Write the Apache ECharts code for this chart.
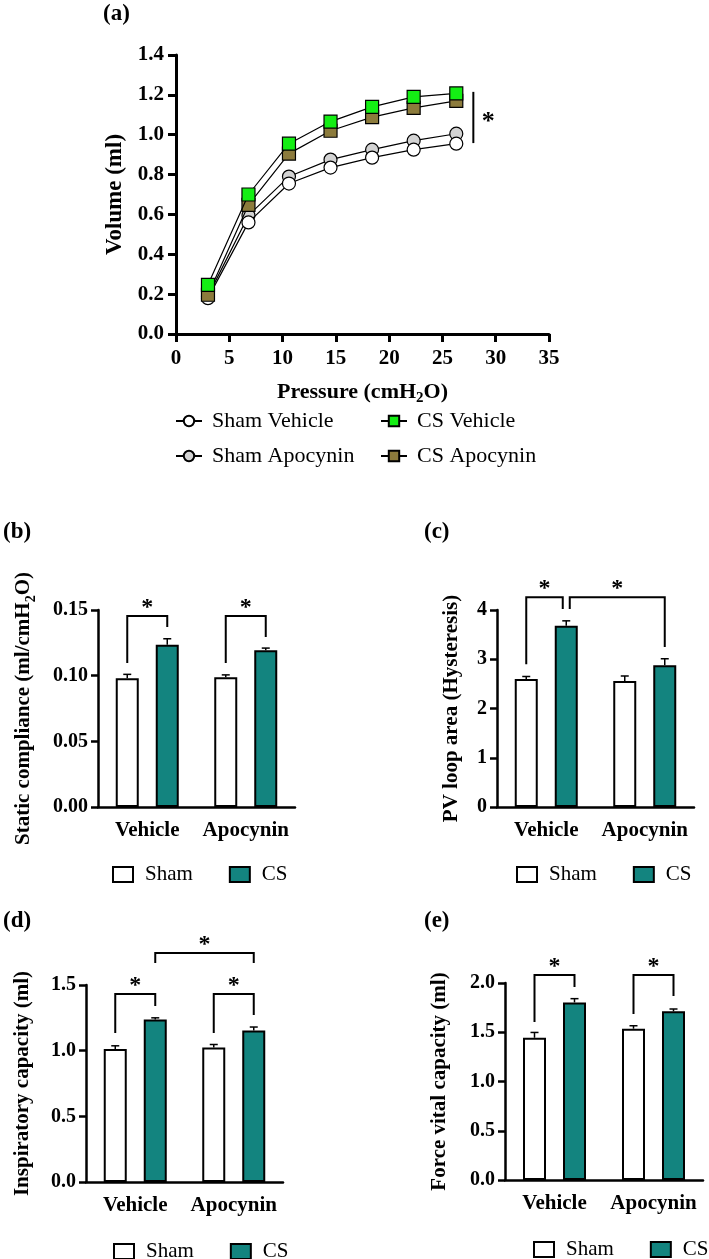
<!DOCTYPE html>
<html><head><meta charset="utf-8">
<script src="https://cdn.jsdelivr.net/npm/echarts@6/dist/echarts.min.js"></script>
<style>html,body{margin:0;padding:0;background:#fff}#c{width:709px;height:1259px}</style>
</head><body><div id="c"></div>
<script>
// ---------- DATA ----------
const pressure = [3.0, 6.8, 10.6, 14.5, 18.4, 22.3, 26.3];
const shamVehicle = [0.18, 0.56, 0.755, 0.835, 0.885, 0.925, 0.955];
const shamApocynin = [0.19, 0.595, 0.79, 0.875, 0.925, 0.97, 1.005];
const csVehicle = [0.247, 0.70, 0.955, 1.066, 1.14, 1.19, 1.207];
const csApocynin = [0.197, 0.648, 0.905, 1.02, 1.088, 1.135, 1.17];
const sigA = [27.9, 1.215, 0.958]; // x, top, bottom of significance line

const categories = ['Vehicle', 'Apocynin'];
const compSham = [0.098, 0.0988], compShamErr = [0.003, 0.0018];
const compCS = [0.1236, 0.1193], compCSErr = [0.0045, 0.0017];
const hystSham = [2.60, 2.56], hystShamErr = [0.05, 0.10];
const hystCS = [3.68, 2.88], hystCSErr = [0.10, 0.13];
const icSham = [1.012, 1.025], icShamErr = [0.025, 0.022];
const icCS = [1.238, 1.154], icCSErr = [0.012, 0.026];
const fvcSham = [1.444, 1.536], fvcShamErr = [0.054, 0.03];
const fvcCS = [1.803, 1.712], fvcCSErr = [0.038, 0.024];
// brackets: [leftCat, leftBar(0 sham,1 CS), rightCat, rightBar, leftBottom, top, rightBottom]
const brkB = [[0,0,0,1,0.1096,0.1454,0.137],[1,0,1,1,0.1096,0.1454,0.1294]];
const brkC = [[0,0,0,1,2.90,4.26,4.02],[0,1,1,1,4.02,4.26,3.25]];
const brkD = [[0,0,0,1,1.135,1.431,1.340],[1,0,1,1,1.135,1.431,1.272],[0,1,1,1,1.667,1.744,1.667]];
const brkE = [[0,0,0,1,1.604,2.081,1.959],[1,0,1,1,1.685,2.081,1.868]];

// ---------- STYLE ----------
const FONT = '"Liberation Serif","Times New Roman",serif';
const TEAL = '#13847F';
const BAR_W = 23, BAR_GAP = 17, OFF = (BAR_W + BAR_GAP) / 2;

const chart = echarts.init(document.getElementById('c'), null, {renderer: 'canvas'});

function errSeries(k, vals, errs, side) {
  return {
    type: 'custom', xAxisIndex: k, yAxisIndex: k, z: 1, silent: true, clip: false,
    data: vals.map((v, i) => [i, v, errs[i]]),
    renderItem: function (params, api) {
      const c = api.value(0), v = api.value(1), e = api.value(2);
      const p0 = api.coord([c, v]), p1 = api.coord([c, v + e]);
      const x = p0[0] + side * OFF;
      return {type: 'group', children: [
        {type: 'line', shape: {x1: x, y1: p0[1], x2: x, y2: p1[1]}, style: {stroke: '#000', lineWidth: 1.5}},
        {type: 'line', shape: {x1: x - 4, y1: p1[1], x2: x + 4, y2: p1[1]}, style: {stroke: '#000', lineWidth: 1.5}}
      ]};
    }
  };
}

function bracketSeries(k, brk) {
  return {
    type: 'custom', xAxisIndex: k, yAxisIndex: k, z: 5, silent: true, clip: false,
    data: brk,
    renderItem: function (params, api) {
      const b = brk[params.dataIndex];
      let nl = 0, nr = 0;
      brk.forEach((o, j) => {
        if (j === params.dataIndex) return;
        if (o[5] === b[5] && o[0] === b[2] && o[1] === b[3]) nr = -3.5;
        if (o[5] === b[5] && o[2] === b[0] && o[3] === b[1]) nl = 3.5;
      });
      const xl = api.coord([b[0], 0])[0] + (b[1] ? OFF : -OFF) + nl;
      const xr = api.coord([b[2], 0])[0] + (b[3] ? OFF : -OFF) + nr;
      const yl = api.coord([0, b[4]])[1], yt = api.coord([0, b[5]])[1], yr = api.coord([0, b[6]])[1];
      return {type: 'group', children: [
        {type: 'polyline', shape: {points: [[xl, yl], [xl, yt], [xr, yt], [xr, yr]]}, style: {stroke: '#000', lineWidth: 2, fill: null}},
        {type: 'text', style: {text: '*', x: (xl + xr) / 2, y: yt - 8, font: 'bold 24px ' + FONT, fill: '#000', align: 'center', verticalAlign: 'middle'}}
      ]};
    }
  };
}

function barAxes(k, max, interval, dec, name, nameGap) {
  const x = {
    type: 'category', gridIndex: k, data: categories,
    axisLine: {lineStyle: {color: '#000', width: 2.5}},
    axisTick: {show: false},
    axisLabel: {color: '#000', fontFamily: FONT, fontWeight: 'bold', fontSize: 21, margin: 13, interval: 0}
  };
  const y = {
    type: 'value', gridIndex: k, min: 0, max: max, interval: interval,
    axisLine: {show: true, lineStyle: {color: '#000', width: 2.5}},
    axisTick: {show: true, length: 7, lineStyle: {width: 2.5, color: '#000'}},
    splitLine: {show: false},
    axisLabel: {color: '#000', fontFamily: FONT, fontWeight: 'bold', fontSize: 20, margin: 10,
      formatter: v => v.toFixed(dec)},
    name: name, nameLocation: 'middle', nameGap: nameGap,
    nameTextStyle: {color: '#000', fontFamily: FONT, fontWeight: 'bold', fontSize: 21,
      rich: {t: {fontFamily: FONT, fontWeight: 'bold', fontSize: 21, lineHeight: 28},
             s: {fontFamily: FONT, fontWeight: 'bold', fontSize: 14, verticalAlign: 'bottom', lineHeight: 14}}}
  };
  return [x, y];
}

function barSeries(k, sham, shamErr, cs, csErr, brk) {
  return [
    {type: 'bar', name: 'Sham', xAxisIndex: k, yAxisIndex: k, data: sham, barWidth: BAR_W, barGap: (BAR_GAP / BAR_W * 100) + '%',
      itemStyle: {color: '#fff', borderColor: '#000', borderWidth: 2}, z: 2},
    {type: 'bar', name: 'CS', xAxisIndex: k, yAxisIndex: k, data: cs, barWidth: BAR_W, barGap: (BAR_GAP / BAR_W * 100) + '%',
      itemStyle: {color: TEAL, borderColor: '#000', borderWidth: 2}, z: 2},
    errSeries(k, sham, shamErr, -1),
    errSeries(k, cs, csErr, 1),
    bracketSeries(k, brk)
  ];
}

function barLegend(left, top) {
  return {data: ['Sham', 'CS'], left: left, top: top, width: 400, icon: 'rect', itemWidth: 20, itemHeight: 15, itemGap: 36,
    selectedMode: false,
    textStyle: {color: '#000', fontFamily: FONT, fontSize: 21, padding: [0, 0, 0, 7]}};
}

const axB = barAxes(1, 0.15, 0.05, 2, '{t|Static compliance (ml/cmH}{s|2}{t|O)}', 60);
const axC = barAxes(2, 4, 1, 0, 'PV loop area (Hysteresis)', 35);
const axD = barAxes(3, 1.5, 0.5, 1, 'Inspiratory capacity (ml)', 53);
const axE = barAxes(4, 2.0, 0.5, 1, 'Force vital capacity (ml)', 55);

const lineStyleCommon = {color: '#000', width: 1.2};
function lineSeries(name, vals, fill, symbol, z) {
  return {type: 'line', name: name, xAxisIndex: 0, yAxisIndex: 0, z: z,
    data: pressure.map((p, i) => [p, vals[i]]),
    symbol: symbol, symbolSize: 13,
    lineStyle: lineStyleCommon,
    itemStyle: {color: fill, borderColor: '#000', borderWidth: 1.2}};
}

const option = {
  animation: false,
  backgroundColor: '#fff',
  textStyle: {fontFamily: FONT},
  grid: [
    {left: 176, top: 55, width: 373, height: 279},
    {left: 98, top: 610, width: 197, height: 197},
    {left: 497, top: 610, width: 197, height: 197},
    {left: 86, top: 985, width: 197, height: 197},
    {left: 505, top: 983, width: 198, height: 197}
  ],
  xAxis: [
    {type: 'value', gridIndex: 0, min: 0, max: 35, interval: 5,
      axisLine: {lineStyle: {color: '#000', width: 3}},
      axisTick: {show: true, length: 8, lineStyle: {width: 3, color: '#000'}},
      splitLine: {show: false},
      axisLabel: {color: '#000', fontFamily: FONT, fontWeight: 'bold', fontSize: 21, margin: 14},
      name: '{t|Pressure (cmH}{s|2}{t|O)}', nameLocation: 'middle', nameGap: 44,
      nameTextStyle: {rich: {t: {fontFamily: FONT, fontWeight: 'bold', fontSize: 22, lineHeight: 28, color: '#000'},
        s: {fontFamily: FONT, fontWeight: 'bold', fontSize: 15, verticalAlign: 'bottom', lineHeight: 15, color: '#000'}}}},
    axB[0], axC[0], axD[0], axE[0]
  ],
  yAxis: [
    {type: 'value', gridIndex: 0, min: 0, max: 1.4, interval: 0.2,
      axisLine: {show: true, lineStyle: {color: '#000', width: 3}},
      axisTick: {show: true, length: 8, lineStyle: {width: 3, color: '#000'}},
      splitLine: {show: false},
      axisLabel: {color: '#000', fontFamily: FONT, fontWeight: 'bold', fontSize: 21, margin: 12, formatter: v => v.toFixed(1)},
      name: 'Volume (ml)', nameLocation: 'middle', nameGap: 48,
      nameTextStyle: {color: '#000', fontFamily: FONT, fontWeight: 'bold', fontSize: 23}},
    axB[1], axC[1], axD[1], axE[1]
  ],
  legend: [
    {data: ['Sham Vehicle', 'Sham Apocynin'], orient: 'vertical', left: 170, top: 405, itemWidth: 26, itemHeight: 13, itemGap: 13,
      selectedMode: false, textStyle: {color: '#000', fontFamily: FONT, fontSize: 22, padding: [0, 0, 0, 5]}},
    {data: ['CS Vehicle', 'CS Apocynin'], orient: 'vertical', left: 375, top: 405, itemWidth: 26, itemHeight: 13, itemGap: 13,
      selectedMode: false, textStyle: {color: '#000', fontFamily: FONT, fontSize: 22, padding: [0, 0, 0, 5]}},
    barLegend(107, 859), barLegend(511, 859), barLegend(108, 1236), barLegend(528, 1234)
  ],
  graphic: [
    {type: 'text', x: 103, y: 3, style: {text: '(a)', font: 'bold 23px ' + FONT, fill: '#000'}},
    {type: 'text', x: 3, y: 521, style: {text: '(b)', font: 'bold 23px ' + FONT, fill: '#000'}},
    {type: 'text', x: 424, y: 521, style: {text: '(c)', font: 'bold 23px ' + FONT, fill: '#000'}},
    {type: 'text', x: 3, y: 910, style: {text: '(d)', font: 'bold 23px ' + FONT, fill: '#000'}},
    {type: 'text', x: 424, y: 910, style: {text: '(e)', font: 'bold 23px ' + FONT, fill: '#000'}}
  ],
  series: [
    lineSeries('Sham Apocynin', shamApocynin, '#D3D3D3', 'circle', 2),
    lineSeries('Sham Vehicle', shamVehicle, '#FFFFFF', 'circle', 3),
    lineSeries('CS Apocynin', csApocynin, '#8C7B3C', 'rect', 4),
    lineSeries('CS Vehicle', csVehicle, '#14EE14', 'rect', 5),
    {type: 'custom', xAxisIndex: 0, yAxisIndex: 0, silent: true, clip: false, data: [sigA],
      renderItem: function (params, api) {
        const pt = api.coord([api.value(0), api.value(1)]), pb = api.coord([api.value(0), api.value(2)]);
        return {type: 'group', children: [
          {type: 'line', shape: {x1: pt[0], y1: pt[1], x2: pb[0], y2: pb[1]}, style: {stroke: '#000', lineWidth: 2}},
          {type: 'text', style: {text: '*', x: pt[0] + 15, y: (pt[1] + pb[1]) / 2 + 5, font: 'bold 26px ' + FONT, fill: '#000', align: 'center', verticalAlign: 'middle'}}
        ]};
      }},
    ...barSeries(1, compSham, compShamErr, compCS, compCSErr, brkB),
    ...barSeries(2, hystSham, hystShamErr, hystCS, hystCSErr, brkC),
    ...barSeries(3, icSham, icShamErr, icCS, icCSErr, brkD),
    ...barSeries(4, fvcSham, fvcShamErr, fvcCS, fvcCSErr, brkE)
  ]
};
chart.setOption(option);
</script>
</body></html>
